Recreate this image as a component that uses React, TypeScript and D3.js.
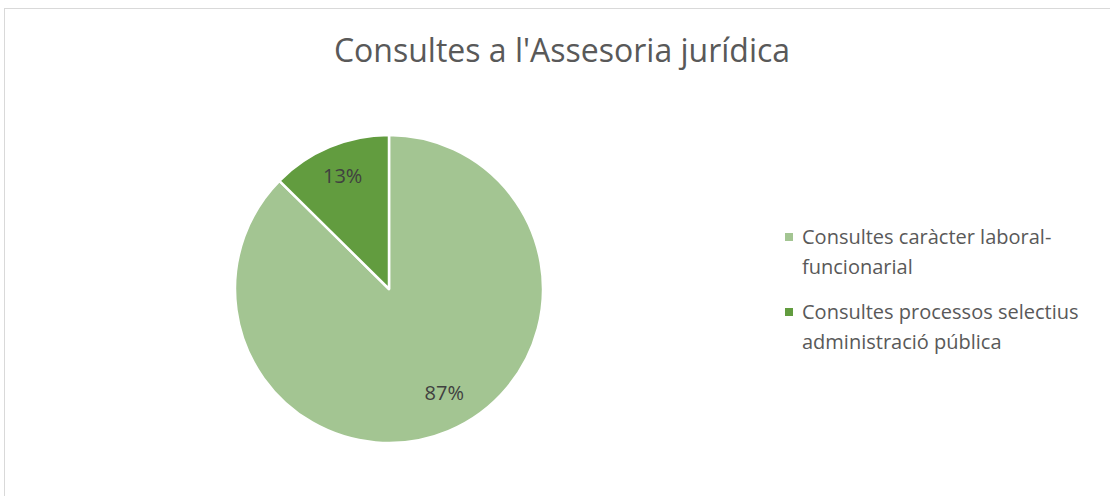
import React, { useEffect, useRef } from 'react';
import * as d3 from 'd3';

const categories = [
  'Consultes caràcter laboral-funcionarial',
  'Consultes processos selectius administració pública',
];
const legendLines = [
  ['Consultes caràcter laboral-', 'funcionarial'],
  ['Consultes processos selectius', 'administració pública'],
];
const values = [87.4, 12.6];
const colors = ['#A3C592', '#629C3F'];

const title = "Consultes a l'Assesoria jurídica";
const font = "'Open Sans', sans-serif";
const textColor = '#595959';

export default function App() {
  const svgRef = useRef<SVGSVGElement>(null);
  const width = 1110;
  const height = 496;

  useEffect(() => {
    if (!svgRef.current) return;
    const svg = d3.select(svgRef.current);
    svg.selectAll('*').remove();

    // chart frame (runs off the right/bottom of the picture)
    svg.append('rect')
      .attr('x', 4.5)
      .attr('y', 8.5)
      .attr('width', 1130)
      .attr('height', 520)
      .attr('fill', '#fff')
      .attr('stroke', '#D9D9D9')
      .attr('stroke-width', 1);

    svg.append('text')
      .attr('x', 562)
      .attr('y', 62)
      .attr('text-anchor', 'middle')
      .attr('font-family', font)
      .attr('font-size', 32)
      .attr('fill', textColor)
      .text(title);

    const cx = 389;
    const cy = 289;
    const radius = 154;
    const total = d3.sum(values);

    const pie = d3.pie<number>().sort(null).value(d => d);
    const arcs = pie(values);
    const arc = d3.arc<d3.PieArcDatum<number>>().innerRadius(0).outerRadius(radius);
    const labelArc = d3.arc<d3.PieArcDatum<number>>().innerRadius(radius * 0.78).outerRadius(radius * 0.78);

    const g = svg.append('g').attr('transform', `translate(${cx},${cy})`);

    g.selectAll('path')
      .data(arcs)
      .join('path')
      .attr('d', arc)
      .attr('fill', (_, i) => colors[i])
      .attr('stroke', '#fff')
      .attr('stroke-width', 2.5)
      .attr('stroke-linejoin', 'round');

    // Excel's best-fit puts the big label a bit off the mid-angle
    const nudge = [[9, -7], [0, -2]];
    g.selectAll('text.lbl')
      .data(arcs)
      .join('text')
      .attr('class', 'lbl')
      .attr('transform', (d, i) => {
        const [x, y] = labelArc.centroid(d);
        return `translate(${x + nudge[i][0]},${y + nudge[i][1]})`;
      })
      .attr('text-anchor', 'middle')
      .attr('dy', '0.35em')
      .attr('font-family', font)
      .attr('font-size', 20)
      .attr('fill', '#404040')
      .text(d => d3.format('.0%')(d.value / total));

    // legend
    const legendY = d3.scalePoint<string>()
      .domain(categories)
      .range([237, 312]);

    const legend = svg.append('g');
    categories.forEach((c, i) => {
      const y = legendY(c) as number;
      legend.append('rect')
        .attr('x', 785)
        .attr('y', y - 4)
        .attr('width', 8)
        .attr('height', 8)
        .attr('fill', colors[i]);
      const t = legend.append('text')
        .attr('x', 802)
        .attr('y', y + 7)
        .attr('font-family', font)
        .attr('font-size', 20)
        .attr('fill', textColor);
      legendLines[i].forEach((line, j) => {
        t.append('tspan')
          .attr('x', 802)
          .attr('dy', j === 0 ? 0 : 30)
          .text(line);
      });
    });
  }, []);

  return (
    <svg
      ref={svgRef}
      width={width}
      height={height}
      style={{ position: 'absolute', left: 0, top: 0, display: 'block' }}
    />
  );
}
